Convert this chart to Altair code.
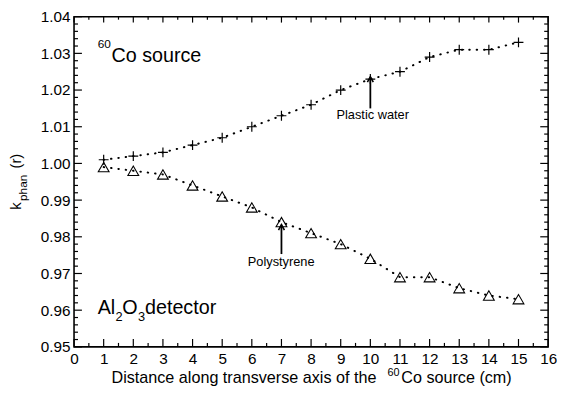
import altair as alt
import pandas as pd

# ---- data ----
distance = list(range(1, 16))
plastic_water = [1.001, 1.002, 1.003, 1.005, 1.007, 1.010, 1.013, 1.016,
                 1.020, 1.023, 1.025, 1.029, 1.031, 1.031, 1.033]
polystyrene = [0.999, 0.998, 0.997, 0.994, 0.991, 0.988, 0.984, 0.981,
               0.978, 0.974, 0.969, 0.969, 0.966, 0.964, 0.963]
x_tick_values = list(range(0, 17))
y_tick_values = [0.95, 0.96, 0.97, 0.98, 0.99, 1.00, 1.01, 1.02, 1.03, 1.04]
arrow_x = [10, 7]
arrow_from = [1.0150, 0.9753]
arrow_to = [1.0236, 0.9833]
label_text = ["Plastic water", "Polystyrene"]
label_x = [10.08, 6.99]
label_y = [1.0121, 0.9720]

W, H = 481, 335
FONT = "Liberation Sans"

xs = alt.Scale(domain=[0, 16], nice=False, zero=False)
ys = alt.Scale(domain=[0.95, 1.04], nice=False, zero=False)

x_axis = alt.Axis(values=x_tick_values, title=None, grid=False, domain=False,
                  ticks=False, tickSize=0, labelFontSize=15.5, labelFont=FONT,
                  labelColor="black", labelPadding=5, labelOverlap=False,
                  labelFlush=False, format="d")
y_axis = alt.Axis(values=y_tick_values, title=None, grid=False, domain=False,
                  ticks=False, tickSize=0, labelFontSize=15.5, labelFont=FONT,
                  labelColor="black", labelPadding=4, labelOverlap=False,
                  labelFlush=False, format=".2f")


def X(field="x:Q"):
    return alt.X(field, scale=xs, axis=x_axis)


def Y(field="y:Q"):
    return alt.Y(field, scale=ys, axis=y_axis)


df = pd.DataFrame({
    "x": distance * 2,
    "y": plastic_water + polystyrene,
    "s": ["Plastic water"] * 15 + ["Polystyrene"] * 15,
})
pw = df[df.s == "Plastic water"]
ps = df[df.s == "Polystyrene"]

lines = alt.Chart(df).mark_line(
    color="black", strokeDash=[0.5, 7], strokeWidth=2, strokeCap="round"
).encode(x=X(), y=Y(), detail="s:N")

plus = alt.Chart(pw).mark_point(
    shape="M-1,0L1,0M0,-1L0,1", size=100, filled=False, color="black",
    strokeWidth=1.2, opacity=1
).encode(x=X(), y=Y())

tri = alt.Chart(ps).mark_point(
    shape="triangle-up", size=120, filled=False, color="black",
    strokeWidth=1.1, opacity=1
).encode(x=X(), y=Y())

# ---- inward tick marks on all four sides ----
x_major = pd.DataFrame({"x": x_tick_values})
x_minor = pd.DataFrame({"x": [v + 0.5 for v in x_tick_values[:-1]]})
y_major = pd.DataFrame({"y": y_tick_values})
y_minor = pd.DataFrame({"y": [round(0.95 + 0.002 * i, 3) for i in range(46) if i % 5 != 0]})


def xticks(d, yc, length):
    return alt.Chart(d).mark_tick(color="black", thickness=1.2, size=length,
                                  opacity=1).encode(x=X(), y=alt.value(yc))


def yticks(d, xc, length):
    return alt.Chart(d).mark_tick(color="black", thickness=1.2, size=length,
                                  opacity=1).encode(y=Y(), x=alt.value(xc))


tick_layers = [
    xticks(x_major, H - 4, 8), xticks(x_minor, H - 2, 4),
    xticks(x_major, 3, 6), xticks(x_minor, 1.5, 3),
    yticks(y_major, 4, 8), yticks(y_minor, 2, 4),
    yticks(y_major, W - 4, 8), yticks(y_minor, W - 2, 4),
]

# ---- arrows and their labels ----
arr = pd.DataFrame({"x": arrow_x, "y": arrow_from, "y2": arrow_to})
arrow_lines = alt.Chart(arr).mark_rule(color="black", strokeWidth=1.8).encode(
    x=X(), y=Y(), y2="y2:Q")
heads = pd.DataFrame({"x": arrow_x, "y": arrow_to})
arrow_heads = alt.Chart(heads).mark_point(
    shape="M-1,1.8L0,0L1,1.8", size=36, filled=False, color="black",
    strokeWidth=1.6, opacity=1
).encode(x=X(), y=Y())

lab = pd.DataFrame({"x": label_x, "y": label_y, "t": label_text})
arrow_labels = alt.Chart(lab).mark_text(
    font=FONT, fontSize=13, color="black", align="center", baseline="alphabetic"
).encode(x=X(), y=Y(), text="t:N")


def txt(s, x, y, size, angle=0):
    kw = dict(font=FONT, fontSize=size, color="black", align="left",
              baseline="alphabetic")
    if angle:
        kw["angle"] = angle
    return alt.Chart(pd.DataFrame({"t": [s]})).mark_text(**kw).encode(
        text="t:N", x=alt.value(x), y=alt.value(y))


texts = [
    # 60Co source
    txt("60", 24, 32, 12), txt("Co source", 38, 46, 20),
    # Al2O3 detector
    txt("Al", 24, 302, 20), txt("2", 42, 309, 13), txt("O", 49, 302, 20),
    txt("3", 65, 309, 13), txt("detector", 72, 302, 20),
    # x-axis title
    txt("Distance along transverse axis of the", 38, 372, 16.4),
    txt("60", 318, 365, 11), txt("Co source (cm)", 332, 372, 16.4),
    # y-axis title
    txt("k", -54, 196, 15, 270), txt("phan", -48, 187, 12, 270),
    txt("(r)", -54, 154, 15, 270),
]

chart = alt.layer(
    lines, *tick_layers, plus, tri, arrow_lines, arrow_heads, arrow_labels, *texts
).properties(
    width=W, height=H,
    padding={"left": 67, "top": 6, "right": 9, "bottom": 44},
    autosize=alt.AutoSizeParams(type="none"),
    background="white",
).configure_view(stroke="black", strokeWidth=1.6)

chart.save("out.html", embed_options={"renderer": "svg", "actions": False})
